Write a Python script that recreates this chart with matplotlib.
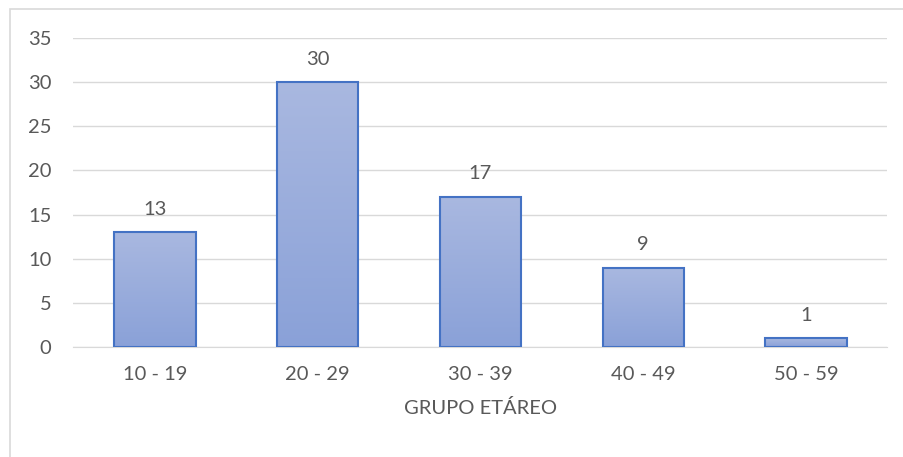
import matplotlib
matplotlib.use("Agg")
import matplotlib.pyplot as plt
import numpy as np
from matplotlib.colors import LinearSegmentedColormap
from matplotlib.patches import Rectangle

# Data
Categories = ["10 - 19", "20 - 29", "30 - 39", "40 - 49", "50 - 59"]
Values = [13, 30, 17, 9, 1]
XLabel = "GRUPO ETÁREO"
YTicks = [0, 5, 10, 15, 20, 25, 30, 35]

# Style
FontName = "Lato"
TextColor = "#595959"
GridColor = "#D9D9D9"
EdgeColor = "#4472C4"
Grad_Top = "#A9B8E0"
Grad_Bottom = "#8AA1D8"
FontSize = 14.5

Fig = plt.figure(figsize=[9.04, 4.57], dpi=100)
# outer chart border (only left/top visible in the crop)
Fig.patches.append(Rectangle((10 / 904, -10 / 457), 910 / 904, 458 / 457,
                             transform=Fig.transFigure, fill=False,
                             edgecolor="#D9D9D9", linewidth=1.2))

ax = plt.axes([0.0813, 0.2407, 0.9004, 0.6761])

x = np.arange(len(Categories))
Bars = ax.bar(x, Values, width=0.5, facecolor="none", edgecolor=EdgeColor,
              linewidth=1.5, zorder=3)

# gradient fill inside each bar
cmap = LinearSegmentedColormap.from_list("grad", [Grad_Bottom, Grad_Top])
grad = np.linspace(0, 1, 256).reshape(-1, 1)
for bar in Bars:
    bx, by = bar.get_x(), bar.get_y()
    bw, bh = bar.get_width(), bar.get_height()
    im = ax.imshow(grad, cmap=cmap, origin="lower", aspect="auto",
                   extent=[bx, bx + bw, by, by + bh], zorder=2)
    im.set_clip_path(bar)

for xi, v in zip(x, Values):
    ax.text(xi, v + 2.0, str(v), ha="center", va="baseline", fontsize=FontSize,
            color=TextColor, fontfamily=FontName)

ax.set_xlim(-0.5, len(Categories) - 0.5)
ax.set_ylim(0, 35)
ax.set_yticks(YTicks)
ax.set_yticklabels([str(t) for t in YTicks], fontsize=FontSize,
                   color=TextColor, fontfamily=FontName)
ax.set_xticks(x)
ax.set_xticklabels(Categories, fontsize=FontSize, color=TextColor,
                   fontfamily=FontName)
ax.set_xlabel(XLabel, fontsize=FontSize, color=TextColor,
              fontfamily=FontName, labelpad=11)

ax.yaxis.grid(True, color=GridColor, linewidth=1)
ax.set_axisbelow(True)
ax.spines[["top", "right", "left"]].set_visible(False)
ax.spines["bottom"].set_color(GridColor)
ax.tick_params(length=0)
ax.tick_params(axis="x", pad=14)
ax.tick_params(axis="y", pad=16)

plt.savefig("out.png", dpi=100)
